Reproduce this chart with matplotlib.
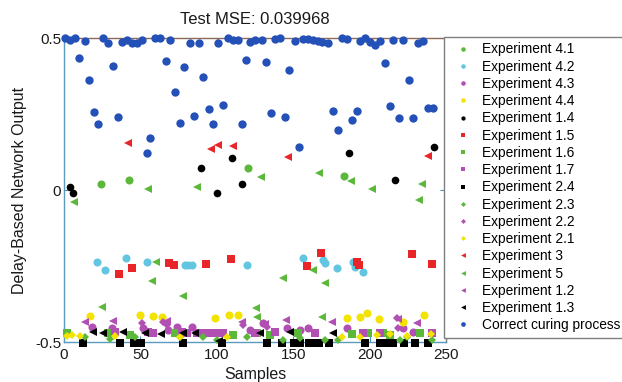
import matplotlib
matplotlib.use("Agg")
import matplotlib.pyplot as plt

plt.rcParams['font.family'] = ['Liberation Sans', 'DejaVu Sans']

# ---- data: (sample index, network output) per experiment ----
exp41_x = [24.0, 42.7, 120.6, 183.4]
exp41_y = [0.020, 0.033, 0.071, 0.046]

exp42_x = [21.8, 26.8, 40.6, 54.5, 79.2, 81.3, 83.6, 119.6, 156.2, 169.7, 170.8, 178.9, 189.3, 190.4, 195.5]
exp42_y = [-0.236, -0.263, -0.223, -0.236, -0.247, -0.247, -0.247, -0.247, -0.223, -0.230, -0.241, -0.256, -0.236, -0.252, -0.269]

exp43_x = [18.1, 31.2, 51.9, 68.3, 73.8, 83.6, 121.7, 130.4, 145.7, 154.5, 159.9, 185.0, 222.1, 228.6]
exp43_y = [-0.450, -0.455, -0.455, -0.461, -0.450, -0.450, -0.461, -0.438, -0.455, -0.461, -0.455, -0.455, -0.455, -0.466]

exp44_x = [17.0, 49.7, 58.4, 64.1, 98.5, 108.2, 114.1, 185.2, 193.5, 198.6, 206.2, 222.1, 235.5]
exp44_y = [-0.413, -0.411, -0.413, -0.417, -0.420, -0.412, -0.411, -0.422, -0.417, -0.404, -0.425, -0.433, -0.411]

exp14_x = [3.9, 5.7, 89.5, 110.1, 100.3, 116.3, 186.3, 216.6, 242.3]
exp14_y = [0.011, -0.011, 0.073, 0.106, -0.011, 0.020, 0.121, 0.033, 0.142]

exp15_x = [36.0, 44.3, 68.9, 72.0, 92.9, 109.1, 158.8, 168.0, 191.9, 193.3, 227.6, 240.6]
exp15_y = [-0.276, -0.256, -0.241, -0.247, -0.244, -0.228, -0.249, -0.206, -0.236, -0.247, -0.211, -0.244]

exp16_x = [1.8, 29.0, 43.2, 72.6, 110.8, 126.1, 134.8, 153.3, 188.3, 199.1, 209.0, 213.4, 233.0]
exp16_y = [-0.471, -0.471, -0.477, -0.471, -0.477, -0.471, -0.477, -0.471, -0.474, -0.471, -0.471, -0.477, -0.471]

exp17_x = [33.4, 55.2, 58.4, 77.0, 80.3, 86.8, 91.2, 95.5, 99.9, 104.3, 125.0, 138.1, 164.3, 195.9, 206.8, 240.6]
exp17_y = [-0.466, -0.466, -0.471, -0.466, -0.471, -0.471, -0.471, -0.471, -0.471, -0.471, -0.471, -0.466, -0.471, -0.471, -0.471, -0.471]

exp24_x = [12.6, 36.6, 45.8, 50.7, 77.9, 103.2, 132.7, 142.5, 150.5, 154.5, 160.5, 163.8, 167.0, 173.4,
           197.0, 206.8, 210.1, 215.5, 222.5, 229.7, 238.2]
exp24_y = [-0.502] * 21

exp23_x = [13.7, 30.1, 46.5, 75.9, 91.2, 99.9, 119.6, 143.5, 154.5, 170.8, 179.5, 219.9, 224.3, 240.6]
exp23_y = [-0.483, -0.491, -0.485, -0.485, -0.483, -0.493, -0.483, -0.493, -0.488, -0.493, -0.493, -0.493, -0.483, -0.493]

exp22_x = [50.9, 65.0, 67.2, 117.0, 132.7, 217.7, 218.8]
exp22_y = [-0.438, -0.433, -0.444, -0.444, -0.450, -0.422, -0.455]

exp21_x = [1.8, 5.0, 10.5, 33.4, 75.9, 106.5, 181.9, 193.7, 205.0, 213.4, 224.5, 240.2]
exp21_y = [-0.480, -0.477, -0.480, -0.479, -0.483, -0.483, -0.483, -0.483, -0.477, -0.474, -0.479, -0.475]

exp3_x = [41.6, 96.3, 101.0, 110.8, 146.8, 238.4]
exp3_y = [0.155, 0.136, 0.148, 0.145, 0.109, 0.113]

exp5_x = [6.5, 55.2, 86.8, 129.1, 166.9, 187.6, 201.8, 234.1, 232.5, 60.5, 57.4, 77.9, 143.1, 162.8, 171.1,
          24.9, 125.7, 126.1, 168.7]
exp5_y = [-0.038, 0.002, 0.009, 0.044, 0.057, 0.030, 0.003, 0.020, -0.034, -0.237, -0.299, -0.349, -0.290,
          -0.262, -0.306, -0.384, -0.389, -0.417, -0.419]

exp12_x = [13.7, 32.3, 67.2, 116.3, 131.5, 145.0, 175.2, 218.3, 231.0]
exp12_y = [-0.433, -0.430, -0.430, -0.433, -0.441, -0.426, -0.433, -0.424, -0.436]

exp13_x = [18.7, 25.7, 38.8, 53.3, 63.2, 78.1, 85.7, 101.6, 128.3, 147.7, 176.0]
exp13_y = [-0.466, -0.471, -0.466, -0.469, -0.474, -0.471, -0.469, -0.497, -0.471, -0.466, -0.469]

correct_x = [0.7, 3.9, 7.2, 13.7, 25.5, 28.8, 38.0, 41.2, 44.5, 47.8, 51.0, 59.6, 62.8, 69.4, 82.5, 88.4,
             100.8, 107.3, 110.6, 113.9, 121.7, 125.0, 129.6, 138.1, 141.4, 151.2, 156.4, 159.7, 163.0,
             166.2, 168.8, 172.8, 181.9, 185.2, 193.7, 197.0, 200.3, 203.5, 206.8, 215.3, 221.9, 231.7, 234.9,
             10.0, 16.6, 19.8, 22.4, 31.9, 35.5, 66.8, 72.6, 75.9, 78.7, 85.1, 91.2, 94.7, 97.7, 104.3,
             116.3, 119.1, 56.3, 54.1, 132.0, 147.4, 135.3, 144.6, 175.8, 179.0, 188.3, 191.6, 209.9,
             225.5, 213.4, 219.4, 228.6, 238.0, 241.3, 154.1]
correct_y = [0.499, 0.493, 0.499, 0.491, 0.499, 0.485, 0.488, 0.493, 0.485, 0.485, 0.493, 0.499, 0.499,
             0.493, 0.485, 0.485, 0.485, 0.499, 0.493, 0.493, 0.488, 0.493, 0.493, 0.496, 0.499, 0.490,
             0.496, 0.496, 0.493, 0.490, 0.488, 0.483, 0.499, 0.496, 0.490, 0.499, 0.488, 0.477, 0.490,
             0.493, 0.493, 0.485, 0.490,
             0.435, 0.362, 0.258, 0.216, 0.409, 0.241, 0.425, 0.322, 0.221, 0.406, 0.243, 0.371, 0.265,
             0.216, 0.281, 0.216, 0.428, 0.170, 0.123, 0.422, 0.396, 0.254, 0.241, 0.259, 0.197, 0.230,
             0.261, 0.419, 0.362, 0.275, 0.238, 0.236, 0.271, 0.269, 0.141]

# ---- styles ----
GREEN = '#5cb83a'
CYAN = '#62c6e0'
PURPLE = '#b24fb2'
YELLOW = '#f2e400'
RED = '#e8262a'
BLACK = '#000000'
BLUE = '#2451b8'

series = [
    ('Experiment 4.1', exp41_x, exp41_y, 'o', GREEN, 5.8),
    ('Experiment 4.2', exp42_x, exp42_y, 'o', CYAN, 5.8),
    ('Experiment 4.3', exp43_x, exp43_y, 'o', PURPLE, 5.8),
    ('Experiment 4.4', exp44_x, exp44_y, 'o', YELLOW, 5.8),
    ('Experiment 1.4', exp14_x, exp14_y, 'o', BLACK, 5.5),
    ('Experiment 1.5', exp15_x, exp15_y, 's', RED, 5.2),
    ('Experiment 1.6', exp16_x, exp16_y, 's', GREEN, 5.2),
    ('Experiment 1.7', exp17_x, exp17_y, 's', PURPLE, 5.2),
    ('Experiment 2.4', exp24_x, exp24_y, 's', BLACK, 5.2),
    ('Experiment 2.3', exp23_x, exp23_y, 'D', GREEN, 4.5),
    ('Experiment 2.2', exp22_x, exp22_y, 'D', PURPLE, 4.5),
    ('Experiment 2.1', exp21_x, exp21_y, 'D', YELLOW, 4.5),
    ('Experiment 3', exp3_x, exp3_y, '<', RED, 6.2),
    ('Experiment 5', exp5_x, exp5_y, '<', GREEN, 6.2),
    ('Experiment 1.2', exp12_x, exp12_y, '<', PURPLE, 6.2),
    ('Experiment 1.3', exp13_x, exp13_y, '<', BLACK, 6.2),
    ('Correct curing process', correct_x, correct_y, 'o', BLUE, 6.0),
]

fig = plt.figure(figsize=(6.22, 3.82), dpi=100)
ax = fig.add_axes([64 / 622, 40 / 382, 382 / 622, 304 / 382])

for label, xs, ys, mk, col, ms in series:
    ax.plot(xs, ys, linestyle='none', marker=mk, color=col, markersize=ms,
            markeredgewidth=0, label=label, clip_on=False, zorder=3)

ax.set_xlim(0, 250)
ax.set_ylim(-0.5, 0.5)
ax.set_xticks([0, 50, 100, 150, 200, 250])
ax.set_yticks([-0.5, 0, 0.5])
ax.set_yticklabels(['-0.5', '0', '0.5'])
ax.tick_params(axis='both', direction='in', length=4, width=0.8, colors='#4a90b8',
               labelcolor='#1a1a1a', labelsize=11, top=True, right=True)
ax.tick_params(axis='x', pad=4)
ax.tick_params(axis='y', pad=2)

ax.spines['left'].set_color('#5b9bc0')
ax.spines['bottom'].set_color('#5b9bc0')
ax.spines['top'].set_color('#8c6a5a')
ax.spines['right'].set_color('#808080')
for sp in ax.spines.values():
    sp.set_linewidth(1.0)

ax.set_title('Test MSE: 0.039968', fontsize=12, color='#1a1a1a', pad=10)
ax.set_xlabel('Samples', fontsize=11.5, color='#1a1a1a', labelpad=4)
ax.set_ylabel('Delay-Based Network Output', fontsize=11.5, color='#1a1a1a', labelpad=6)

leg = fig.legend(loc='upper left', bbox_to_anchor=(444 / 622, 1 - 37 / 382),
                 borderaxespad=0, fontsize=9.9, markerscale=0.56, labelspacing=0.235,
                 handlelength=2.0, handletextpad=0.4, borderpad=0.4,
                 fancybox=False, framealpha=1, edgecolor='#7f7f7f')
leg.get_frame().set_linewidth(1.0)

fig.savefig('out.png', dpi=100)
